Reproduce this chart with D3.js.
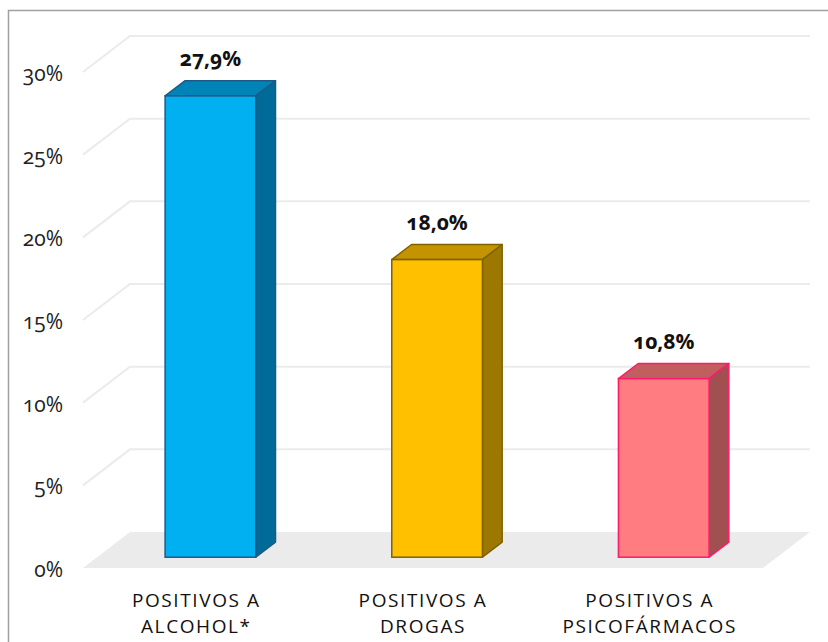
<!DOCTYPE html>
<html>
<head>
<meta charset="utf-8">
<script src="https://cdn.jsdelivr.net/npm/d3@7"></script>
<style>
  html, body { margin: 0; padding: 0; background: #fff; }
  svg { display: block; font-family: "Open Sans", "Noto Sans", sans-serif; }
  .tick-label { font-size: 21px; fill: #222; font-variant-numeric: oldstyle-nums; }
  .value-label { font-size: 21px; font-weight: bold; fill: #111; font-variant-numeric: oldstyle-nums; }
  .cat-label { font-size: 19px; fill: #111; letter-spacing: 1.6px; }
</style>
</head>
<body>
<svg id="chart" width="828" height="642"></svg>
<script>
// data
var categories = ['POSITIVOS A|ALCOHOL*', 'POSITIVOS A|DROGAS', 'POSITIVOS A|PSICOFÁRMACOS'];
var values = [27.9, 18.0, 10.8];
var valueLabels = ['27,9%', '18,0%', '10,8%'];
var ticks = [0, 5, 10, 15, 20, 25, 30];
var tickLabels = ['0%', '5%', '10%', '15%', '20%', '25%', '30%'];

// colours per bar: front, top, side, stroke
var fronts = ['#00b0f0', '#ffc000', '#ff7c80'];
var tops = ['#0084b8', '#c49400', '#c05e60'];
var sides = ['#006a98', '#9c7800', '#a05050'];
var strokes = ['#1f5a86', '#7f6200', '#ff1a6a'];

var svg = d3.select('#chart');

// 3d depth vector (front -> back of the floor)
var depth = { dx: 47, dy: -36 };
var barT0 = 0.3, barT1 = 0.72;

// y scale on the back wall
var y = d3.scaleLinear().domain([0, 30]).range([532, 36]);
function yFront(v) { return y(v) - depth.dy; }

// x band scale on the front edge of the floor
var x = d3.scaleBand().domain(categories).range([83, 763])
    .paddingInner(0.6).paddingOuter(0.3);

// frame
svg.append('rect')
    .attr('x', 8.5).attr('y', 10.5)
    .attr('width', 840).attr('height', 660)
    .attr('fill', 'none').attr('stroke', '#a0a0a0').attr('stroke-width', 1.5);

// floor
var x0 = x.range()[0], x1 = x.range()[1];
svg.append('path')
    .attr('d', [
        'M' + x0 + ',' + yFront(0),
        'L' + (x0 + depth.dx) + ',' + y(0),
        'L' + (x1 + depth.dx) + ',' + y(0),
        'L' + x1 + ',' + yFront(0),
        'Z'].join(''))
    .attr('fill', '#ebebeb');

// gridlines: side wall diagonal + back wall
var grid = svg.append('g');
ticks.filter(function(t){ return t > 0; }).forEach(function(t){
    grid.append('path')
        .attr('d', 'M' + x0 + ',' + yFront(t) +
                   'L' + (x0 + depth.dx) + ',' + y(t) +
                   'L' + (x1 + depth.dx) + ',' + y(t))
        .attr('fill', 'none')
        .attr('stroke', '#ebebeb')
        .attr('stroke-width', 2);
});

// tick labels
svg.append('g').selectAll('text')
    .data(ticks).enter()
    .append('text')
    .attr('class', 'tick-label')
    .attr('x', 63)
    .attr('y', function(d){ return yFront(d) + 9; })
    .attr('text-anchor', 'end')
    .text(function(d, i){ return tickLabels[i]; });

// bars
var bars = svg.append('g').selectAll('g')
    .data(values).enter()
    .append('g');

bars.each(function(v, i){
    var g = d3.select(this);
    var c = categories[i];
    var fx = x(c) + depth.dx * barT0;
    var fw = x.bandwidth();
    var fTop = yFront(v) + depth.dy * barT0;
    var fBot = yFront(0) + depth.dy * barT0;
    var ox = depth.dx * (barT1 - barT0);
    var oy = depth.dy * (barT1 - barT0);

    // top face
    g.append('path')
        .attr('d', ['M' + fx + ',' + fTop,
                    'L' + (fx + ox) + ',' + (fTop + oy),
                    'L' + (fx + fw + ox) + ',' + (fTop + oy),
                    'L' + (fx + fw) + ',' + fTop, 'Z'].join(''))
        .attr('fill', tops[i]).attr('stroke', strokes[i]).attr('stroke-width', 1.5)
        .attr('stroke-linejoin', 'round');

    // side face
    g.append('path')
        .attr('d', ['M' + (fx + fw) + ',' + fTop,
                    'L' + (fx + fw + ox) + ',' + (fTop + oy),
                    'L' + (fx + fw + ox) + ',' + (fBot + oy),
                    'L' + (fx + fw) + ',' + fBot, 'Z'].join(''))
        .attr('fill', sides[i]).attr('stroke', strokes[i]).attr('stroke-width', 1.5)
        .attr('stroke-linejoin', 'round');

    // front face
    g.append('rect')
        .attr('x', fx).attr('y', fTop)
        .attr('width', fw).attr('height', fBot - fTop)
        .attr('fill', fronts[i]).attr('stroke', strokes[i]).attr('stroke-width', 1.5);

    // value label
    g.append('text')
        .attr('class', 'value-label')
        .attr('x', fx + fw / 2)
        .attr('y', fTop - 30)
        .attr('text-anchor', 'middle')
        .text(valueLabels[i]);
});

// category labels
var cats = svg.append('g').selectAll('text')
    .data(categories).enter()
    .append('text')
    .attr('class', 'cat-label')
    .attr('text-anchor', 'middle')
    .attr('x', function(d){ return x(d) + x.bandwidth() / 2; })
    .attr('y', 607);

cats.each(function(d){
    var t = d3.select(this);
    var cx = x(d) + x.bandwidth() / 2;
    d.split('|').forEach(function(line, k){
        t.append('tspan')
            .attr('x', cx)
            .attr('dy', k === 0 ? 0 : 26)
            .text(line);
    });
});
</script>
</body>
</html>
